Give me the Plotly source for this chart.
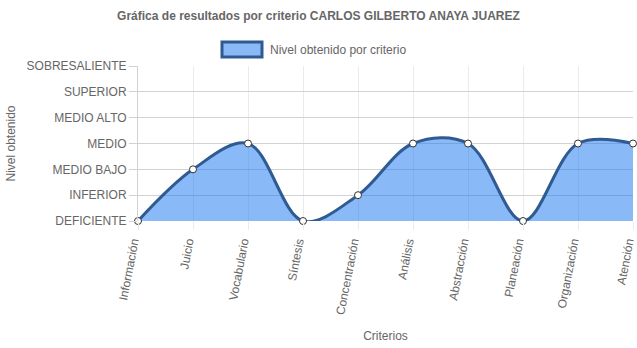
import plotly.graph_objects as go

# Criterios evaluados y nivel obtenido (0 = DEFICIENTE ... 6 = SOBRESALIENTE)
criterios = ["Información", "Juicio", "Vocabulario", "Síntesis", "Concentración",
             "Análisis", "Abstracción", "Planeación", "Organización", "Atención"]
niveles = [0, 2, 3, 0, 1, 3, 3, 0, 3, 3]
etiquetas_nivel = ["DEFICIENTE", "INFERIOR", "MEDIO BAJO", "MEDIO",
                   "MEDIO ALTO", "SUPERIOR", "SOBRESALIENTE"]

FONT = "Liberation Sans, Arial, Helvetica, sans-serif"
GRAY = "#666666"
LINE = "#2f5b92"
FILL = "rgba(30,120,240,0.52)"

fig = go.Figure()
fig.add_trace(go.Scatter(
    x=criterios, y=niveles,
    mode="lines+markers",
    line=dict(color=LINE, width=3, shape="spline", smoothing=1.0),
    marker=dict(size=7, color="white", line=dict(color="#333333", width=1)),
    fill="tozeroy", fillcolor=FILL,
    cliponaxis=False,
    showlegend=False,
    name="Nivel obtenido por criterio",
))

# Leyenda dibujada a mano: caja rellena + texto
fig.add_shape(type="rect", xref="paper", yref="paper",
              x0=(222 - 138) / 495, x1=(262 - 138) / 495,
              y0=(221 - 57) / 155, y1=(221 - 42) / 155,
              fillcolor="#8ab9f7", line=dict(color=LINE, width=3))
fig.add_annotation(text="Nivel obtenido por criterio", xref="paper", yref="paper",
                   x=(268 - 138) / 495, y=(221 - 49.5) / 155,
                   xanchor="left", yanchor="middle", showarrow=False,
                   font=dict(family=FONT, size=12, color=GRAY))

fig.update_layout(
    width=637, height=348,
    margin=dict(l=138, r=4, t=66, b=127),
    paper_bgcolor="white", plot_bgcolor="white",
    font=dict(family=FONT, size=12, color=GRAY),
    title=dict(text="<b>Gráfica de resultados por criterio CARLOS GILBERTO ANAYA JUAREZ</b>",
               x=0.5, xanchor="center", y=1 - 16 / 348, yanchor="middle",
               font=dict(family=FONT, size=12, color=GRAY)),
    xaxis=dict(
        type="category", range=[0, len(criterios) - 1], automargin=False,
        showgrid=True, gridcolor="#ebebeb", gridwidth=1,
        ticks="outside", ticklen=8, tickcolor="#ebebeb",
        tickangle=-79, ticklabelshift=-5,
        tickfont=dict(family=FONT, size=12, color=GRAY),
        showline=False, zeroline=False,
        title=dict(text="Criterios", standoff=16,
                   font=dict(family=FONT, size=12, color=GRAY)),
    ),
    yaxis=dict(
        range=[0, 6], tickvals=list(range(len(etiquetas_nivel))),
        ticktext=etiquetas_nivel, automargin=False,
        showgrid=True, gridcolor="#d2d2d2", gridwidth=1,
        ticks="outside", ticklen=8, tickcolor="#d2d2d2",
        tickfont=dict(family=FONT, size=12, color=GRAY),
        showline=True, linecolor="#d2d2d2", linewidth=1,
        zeroline=False,
        title=dict(text="Nivel obtenido", standoff=8,
                   font=dict(family=FONT, size=12, color=GRAY)),
    ),
)

fig.write_html("out.html")
